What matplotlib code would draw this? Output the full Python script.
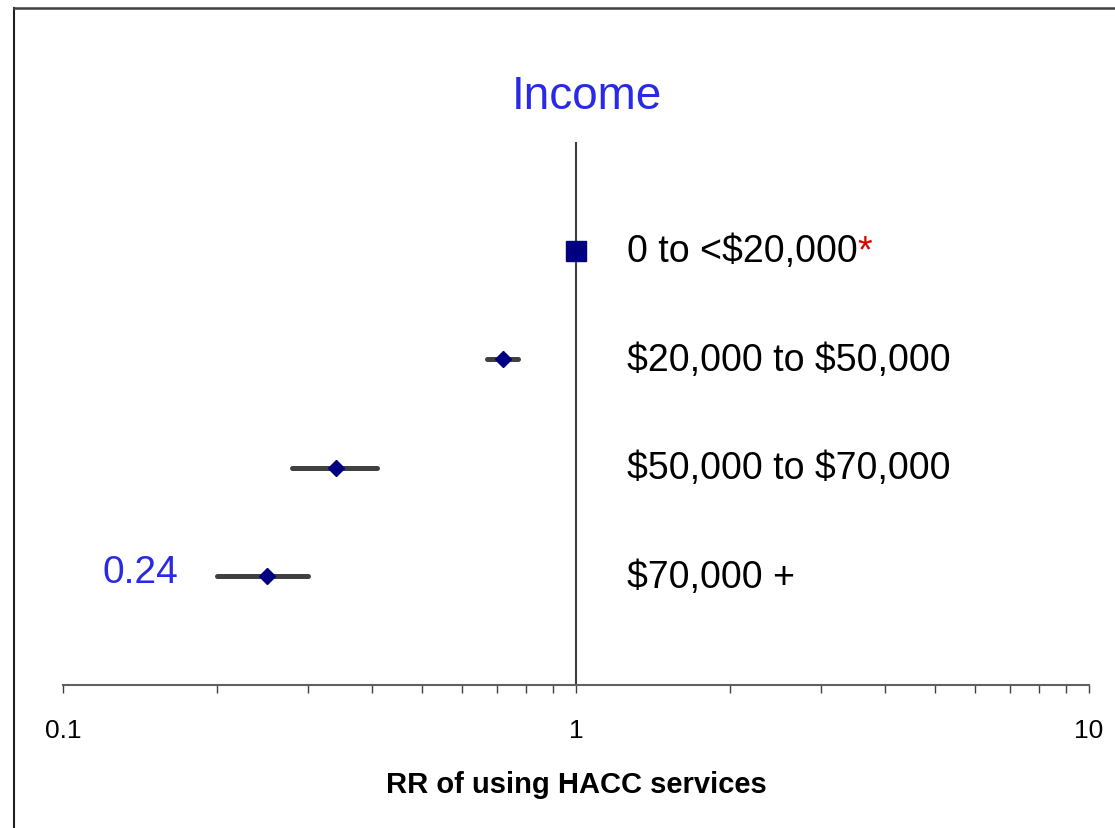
import matplotlib.pyplot as plt
from matplotlib.lines import Line2D

# data
categories = ['0 to <$20,000', '$20,000 to $50,000', '$50,000 to $70,000', '$70,000 +']
rr = [1.0, 0.72, 0.34, 0.25]
ci_low = [None, 0.67, 0.28, 0.20]
ci_high = [None, 0.77, 0.41, 0.30]
highlight = '0.24'
xticks = [0.1, 1, 10]
xtick_labels = ['0.1', '1', '10']

plt.rcParams['font.family'] = ['Liberation Sans', 'DejaVu Sans']
plt.rcParams['text.parse_math'] = False

fig = plt.figure(figsize=(11.15, 8.29), dpi=100)
ax = fig.add_axes([63 / 1115, 1 - 686 / 829, (1089 - 63) / 1115, (686 - 143) / 829])

n = len(categories)
ypos = [n - i for i in range(n)]

ax.axvline(1, color='#404040', lw=1.5, zorder=1)

for i, y in enumerate(ypos):
    if ci_low[i] is not None:
        ax.plot([ci_low[i], ci_high[i]], [y, y], color='#404040', lw=3.6,
                solid_capstyle='round', zorder=2)
        ax.plot(rr[i], y, marker='D', ms=8, color='#000080', zorder=3)
    else:
        # reference category
        ax.plot(rr[i], y, marker='s', ms=15, color='#000080', zorder=3)

    t = ax.annotate(categories[i], xy=(1.255, y), xytext=(0, -7.5),
                    textcoords='offset points', va='baseline', ha='left',
                    fontsize=27, color='black')
    if i == 0:
        ax.annotate('*', xy=(1, 1), xycoords=t, va='top', ha='left',
                    fontsize=27, color='#dd0000')

ax.annotate(highlight, xy=(0.168, ypos[-1]), xytext=(0, -4.0),
            textcoords='offset points', va='baseline', ha='right',
            fontsize=28, color='#2a2ae6')

ax.set_xscale('log')
ax.set_xlim(0.1, 10)
ax.set_ylim(0, n + 1)
ax.set_xticks(xticks)
ax.set_xticklabels(xtick_labels, fontsize=19)
ax.tick_params(axis='x', which='both', direction='out', length=6, width=1,
               color='#404040', pad=18)
ax.set_yticks([])
for s in ['left', 'right', 'top']:
    ax.spines[s].set_visible(False)
ax.spines['bottom'].set_color('#606060')
ax.spines['bottom'].set_linewidth(1.5)
ax.set_xlabel('RR of using HACC services', fontsize=21, fontweight='bold',
              labelpad=20)

fig.text(587 / 1115, 1 - 109 / 829, 'Income', ha='center', va='baseline',
         fontsize=33, color='#2a2ae6')

# outer frame (only left and top edges fall inside the image)
fig.add_artist(Line2D([14 / 1115, 14 / 1115], [0, 1 - 9 / 829],
                      transform=fig.transFigure, color='#202020', lw=1.5))
fig.add_artist(Line2D([14 / 1115, 1], [1 - 9 / 829, 1 - 9 / 829],
                      transform=fig.transFigure, color='#404040', lw=1.8))

fig.savefig('out.png', dpi=100)
plt.close(fig)
